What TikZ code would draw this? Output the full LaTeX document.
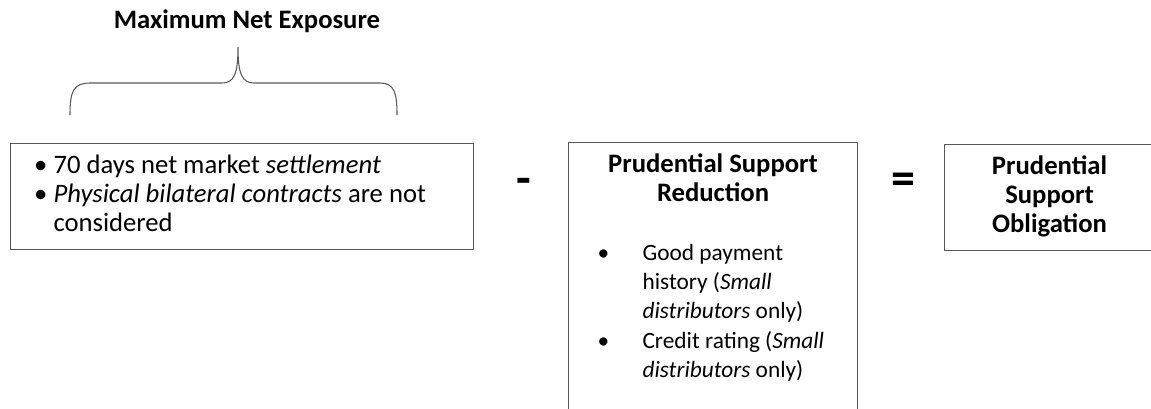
\documentclass[tikz,border=0pt]{standalone}
\usepackage{fontspec}
\usepackage{array}
\setmainfont{Carlito}
\definecolor{boxgray}{RGB}{89,89,89}
\newcommand{\listfont}{\fontsize{17.5pt}{22pt}\selectfont}
\newcommand{\bulmark}{\hspace*{-2.5pt}\textbullet}
\begin{document}
\begin{tikzpicture}[x=0.75pt,y=-0.75pt,font=\fontsize{20pt}{22pt}\selectfont,
  box/.style={draw=boxgray,line width=0.8pt,inner xsep=20.25pt,inner ysep=6.75pt,anchor=north west},
  braceline/.style={draw=boxgray,line width=0.8pt},
  opsign/.style={font=\fontsize{36pt}{40pt}\selectfont\bfseries,inner sep=0pt,anchor=north}]
  % 设置画布大小
  \useasboundingbox (0,0) rectangle (1151,408);
  % 设置列宽
  \def\bulOneWidth{12pt}
  \def\txtOneWidth{294.75pt}
  \def\bulTwoWidth{33.75pt}
  \def\txtTwoWidth{173.25pt}

  % 绘制标题
  \node[anchor=base] (title) at (247,28) {\textbf{Maximum Net Exposure}};

  % 绘制大括号
  \coordinate (braceL) at (70,115);
  \coordinate (braceTip) at (238,47);
  \coordinate (braceR) at (397,115);
  \draw[braceline] (braceL) .. controls (70,92) and (73,83) .. (90,83) -- (222,83)
    .. controls (234,83) and (238,74) .. (braceTip)
    .. controls (238,74) and (242,83) .. (254,83) -- (380,83)
    .. controls (394,83) and (397,92) .. (braceR);

  % 绘制第一个矩形
  \node[box,inner xsep=20.25pt] (exposure) at (10,143) {%
    \begin{tabular}{@{}p{\bulOneWidth}@{}p{\txtOneWidth}@{}}
      \bulmark & 70 days net market \textit{settlement}\\
      \bulmark & \textit{Physical bilateral contracts} are not\\
               & considered
    \end{tabular}};

  % 绘制减号
  \node[opsign] (minusSign) at (523.5,178) {-};

  % 绘制第二个矩形
  \node[box,inner xsep=21.75pt] (reduction) at (568,142) {%
    \begin{tabular}{@{}>{\listfont}p{\bulTwoWidth}@{}>{\listfont}l@{}}
      \multicolumn{2}{@{}c@{}}{\makebox[\txtTwoWidth]{\textbf{Prudential Support}}}\\
      \multicolumn{2}{@{}c@{}}{\makebox[\txtTwoWidth]{\textbf{Reduction}}}\\
      & \\
      \textbullet & Good payment\\
                  & history (\textit{Small}\\
                  & \textit{distributors} only)\\
      \textbullet & Credit rating (\textit{Small}\\
                  & \textit{distributors} only)\\
      & 
    \end{tabular}};

  % 绘制等号
  \node[opsign] (equalsSign) at (903.5,173) {=};

  % 绘制第三个矩形
  \node[box,minimum width=157.5pt] (obligation) at (944,144) {%
    \begin{tabular}{@{}c@{}}
      \textbf{Prudential}\\
      \textbf{Support}\\
      \textbf{Obligation}
    \end{tabular}};
\end{tikzpicture}
\end{document}
